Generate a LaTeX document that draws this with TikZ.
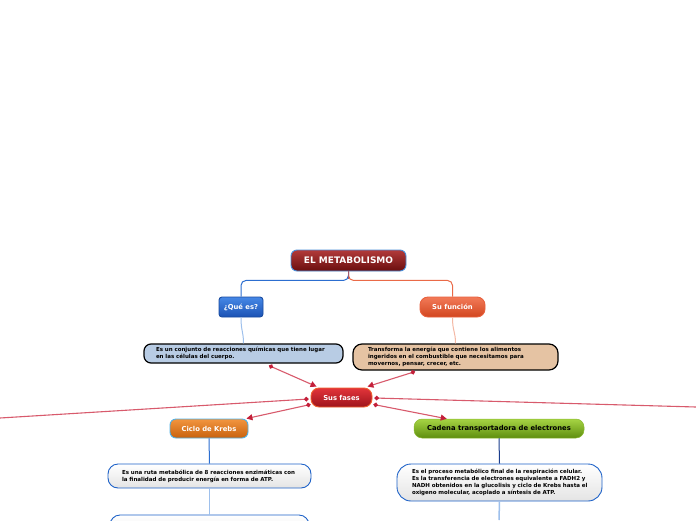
\documentclass[tikz,border=0pt]{standalone}
\usepackage{fontspec}
\setmainfont{DejaVu Sans}
\usetikzlibrary{arrows.meta,calc}
\definecolor{titletop}{HTML}{B23A3A}
\definecolor{titlebot}{HTML}{6A0E0E}
\definecolor{titleedge}{HTML}{4A8FDA}
\definecolor{quetop}{HTML}{4688E6}
\definecolor{quebot}{HTML}{1B52B4}
\definecolor{queedge}{HTML}{1A4CA0}
\definecolor{funtop}{HTML}{F27A58}
\definecolor{funbot}{HTML}{D2461F}
\definecolor{funedge}{HTML}{E8603C}
\definecolor{descblue}{HTML}{B8CCE4}
\definecolor{desctan}{HTML}{E5C3A3}
\definecolor{fasestop}{HTML}{E2343A}
\definecolor{fasesbot}{HTML}{9E141C}
\definecolor{fasesedge}{HTML}{F0602E}
\definecolor{krebstop}{HTML}{F2953F}
\definecolor{krebsbot}{HTML}{C8620E}
\definecolor{krebsedge}{HTML}{4FB0E6}
\definecolor{cadtop}{HTML}{A6D444}
\definecolor{cadbot}{HTML}{5E8E0E}
\definecolor{cadedge}{HTML}{8AB830}
\definecolor{boxedge}{HTML}{1E62C8}
\definecolor{greybot}{HTML}{E4E4E4}
\definecolor{redline}{HTML}{D85A6C}
\definecolor{redtip}{HTML}{C4203A}
\definecolor{blueline}{HTML}{2C6ED0}
\definecolor{lightblueline}{HTML}{9EC0EC}
\definecolor{orangeline}{HTML}{EA6A48}
\definecolor{lightorangeline}{HTML}{F4B8A4}
\definecolor{darkblueline}{HTML}{1A3C8C}
\definecolor{stubline}{HTML}{A05A70}
\tikzset{
  topic/.style={font=\fontsize{6.8}{7}\selectfont\bfseries, text=white, inner sep=0pt, line width=0.9pt},
  descbox/.style={font=\fontsize{5.5}{6.8}\selectfont\bfseries, align=left, inner ysep=0pt, line width=1.2pt, text=black},
  whitebox/.style={descbox, top color=white, bottom color=greybot, draw=boxedge, line width=0.9pt},
  relline/.style={redline, line width=1.1pt, {Circle[length=4.5pt,color=redtip]}-{Triangle[length=6pt,width=6pt,color=redtip]}},
  relfree/.style={redline, line width=1.1pt, {Circle[length=4.5pt,color=redtip]}-},
}
\begin{document}
\begin{tikzpicture}[x=1pt,y=-1pt]
\clip (0,0) rectangle (696,520);
\fill[white] (0,0) rectangle (696,520);

% nodes
\node[topic, font=\fontsize{9}{9}\selectfont\bfseries, minimum width=115pt, minimum height=21pt,
  rounded corners=6pt, top color=titletop, bottom color=titlebot, draw=titleedge] (title) at (348.5,260.5) {EL METABOLISMO};
\node[topic, minimum width=44pt, minimum height=20pt, rounded corners=3pt,
  top color=quetop, bottom color=quebot, draw=queedge] (que) at (241,307) {¿Qué es?};
\node[topic, minimum width=65pt, minimum height=20pt, rounded corners=8pt,
  top color=funtop, bottom color=funbot, draw=funedge] (fun) at (452.5,307) {Su función};

\node[descbox, fill=descblue, draw=black, rounded corners=7pt, text width=175pt, inner xsep=12pt,
  minimum height=19pt] (d1) at (243.5,353.5)
  {\mbox{Es un conjunto de reacciones químicas que tiene lugar}\\\mbox{en las células del cuerpo.}};
\node[descbox, fill=desctan, draw=black, rounded corners=9pt, text width=175pt, inner xsep=15pt,
  minimum height=26pt] (d2) at (455.5,357)
  {\mbox{Transforma la energía que contiene los alimentos}\\\mbox{ingeridos en el combustible que necesitamos para}\\\mbox{movernos, pensar, crecer, etc.}};

\node[topic, minimum width=61pt, minimum height=19pt, rounded corners=8pt,
  top color=fasestop, bottom color=fasesbot, draw=fasesedge] (fases) at (341.5,397.5) {Sus fases};

\node[topic, minimum width=78pt, minimum height=19pt, rounded corners=6pt,
  top color=krebstop, bottom color=krebsbot, draw=krebsedge] (krebs) at (209,428.5) {Ciclo de Krebs};
\node[topic, text=black, minimum width=170pt, minimum height=19pt, rounded corners=8pt,
  top color=cadtop, bottom color=cadbot, draw=cadedge, line width=0.5pt] (cad) at (499,428.5) {Cadena transportadora de electrones};

\node[whitebox, rounded corners=10pt, text width=175pt, inner xsep=14pt, minimum height=24pt] (d3) at (209.5,476)
  {\mbox{Es una ruta metabólica de 8 reacciones enzimáticas con}\\\mbox{la finalidad de producir energía en forma de ATP.}};
\node[whitebox, rounded corners=14pt, text width=175pt, inner xsep=15pt, minimum height=37pt] (d4) at (499.5,482.5)
  {\mbox{Es el proceso metabólico final de la respiración celular.}\\\mbox{Es la transferencia de electrones equivalente a FADH2 y}\\\mbox{NADH obtenidos en la glucolisis y ciclo de Krebs hasta el}\\\mbox{oxigeno molecular, acoplado a síntesis de ATP.}};
\node[whitebox, rounded corners=10pt, minimum width=199pt, minimum height=30pt, inner xsep=0pt] (d5) at (209.5,530) {};

% free ends
\coordinate (offL) at (0,418);
\coordinate (offR) at (696,407);
\coordinate (d4end) at (499,520);

% hierarchy connectors
\draw[blueline, line width=1pt, rounded corners=5pt] (title.south) -- ++(0,9) -| (que.north);
\draw[orangeline, line width=1pt, rounded corners=5pt] (title.south) -- ++(0,9) -| (fun.north);
\draw[stubline, line width=1pt] (title.south) -- ++(0,8);
\draw[lightblueline, line width=1pt] (que.south) .. controls ($(que.south)+(0,14)$) and ($(d1.north)+(0,-12)$) .. (d1.north);
\draw[lightorangeline, line width=1pt] (fun.south) .. controls ($(fun.south)+(0,14)$) and ($(d2.north)+(0,-12)$) .. (d2.north);
\draw[blueline, line width=1pt] (krebs.south) -- (d3.north);
\draw[lightblueline, line width=1.5pt] (d3.south) -- (d5.north);
\draw[darkblueline, line width=1pt] (cad.south) -- (d4.north);
\draw[lightblueline, line width=1.5pt] (d4.south) -- (d4end);

% relation connectors
\coordinate (s1) at ($(d1.south)+(25.5,2)$);
\coordinate (s2) at ($(d2.south)+(-40.5,1)$);
\coordinate (t1) at ($(fases.north west)+(6,-1)$);
\coordinate (t2) at ($(fases.north east)+(-5,-1)$);
\coordinate (sl1) at ($(fases.west)+(-2,1.5)$);
\coordinate (sl2) at ($(fases.south west)+(0,-3)$);
\coordinate (sr1) at ($(fases.east)+(2,0.5)$);
\coordinate (sr2) at ($(fases.south east)+(1,-3)$);
\coordinate (tk) at ($(krebs.north east)+(-2,0)$);
\coordinate (tc) at ($(cad.north west)+(33,0)$);

\draw[relline] (s1) -- (t1);
\draw[relline] (s2) -- (t2);
\draw[relfree] (sl1) -- (offL);
\draw[relline] (sl2) -- (tk);
\draw[relfree] (sr1) -- (offR);
\draw[relline] (sr2) -- (tc);
\end{tikzpicture}
\end{document}
